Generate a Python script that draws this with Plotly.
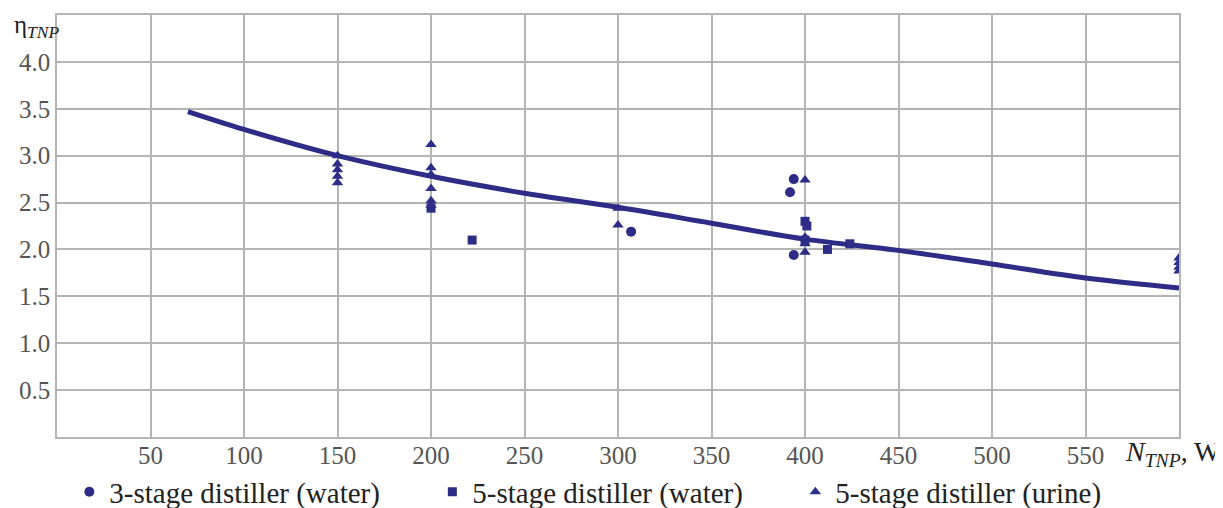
import plotly.graph_objects as go

# ---- data ----
curve_x = [70, 100, 150, 200, 250, 300, 350, 400, 450, 500, 550, 600]
curve_y = [3.47, 3.28, 3.00, 2.78, 2.60, 2.45, 2.28, 2.11, 1.99, 1.845, 1.695, 1.59]

water3_x = [307, 392, 394, 394]
water3_y = [2.19, 2.61, 2.75, 1.94]

water5_x = [200, 222, 400, 401, 400, 412, 424]
water5_y = [2.44, 2.10, 2.30, 2.25, 2.10, 2.00, 2.06]

urine5_x = [150, 150, 150, 150, 150,
            200, 200, 200, 200, 200, 200,
            300, 300,
            400, 400, 400, 400,
            600, 600, 600, 600]
urine5_y = [3.00, 2.91, 2.85, 2.78, 2.71,
            3.12, 2.87, 2.80, 2.65, 2.52, 2.47,
            2.44, 2.26,
            2.74, 2.13, 2.06, 1.97,
            1.91, 1.86, 1.81, 1.77]

x_ticks = [50, 100, 150, 200, 250, 300, 350, 400, 450, 500, 550]
y_ticks = [0.5, 1.0, 1.5, 2.0, 2.5, 3.0, 3.5, 4.0]
series_names = ["3-stage distiller (water)", "5-stage distiller (water)", "5-stage distiller (urine)"]

# ---- styling ----
NAVY = "#2d2c86"
GRID = "#b4b4b4"
SERIF = "Liberation Serif"

fig = go.Figure()

fig.add_trace(go.Scatter(x=curve_x, y=curve_y, mode="lines",
                         line=dict(color=NAVY, width=5, shape="spline"),
                         showlegend=False, hoverinfo="skip"))

fig.add_trace(go.Scatter(x=water3_x, y=water3_y, mode="markers", name=series_names[0],
                         marker=dict(symbol="circle", size=10, color=NAVY)))
fig.add_trace(go.Scatter(x=water5_x, y=water5_y, mode="markers", name=series_names[1],
                         marker=dict(symbol="square", size=9, color=NAVY)))
fig.add_trace(go.Scatter(x=urine5_x, y=urine5_y, mode="markers", name=series_names[2],
                         marker=dict(symbol="triangle-up", size=10, color=NAVY)))

fig.update_xaxes(range=[0, 600], tickvals=x_ticks, ticktext=[str(v) for v in x_ticks],
                 showgrid=True, gridcolor=GRID, gridwidth=1.5,
                 showline=True, linecolor=GRID, linewidth=1.5, mirror=True,
                 zeroline=False, ticks="", automargin=False, ticklabelstandoff=-5,
                 tickfont=dict(family=SERIF, size=25, color="#555555"))
fig.update_yaxes(range=[0, 4.5], tickvals=y_ticks, ticktext=[f"{v:.1f}" for v in y_ticks],
                 showgrid=True, gridcolor=GRID, gridwidth=1.5,
                 showline=True, linecolor=GRID, linewidth=1.5, mirror=True,
                 zeroline=False, ticks="", automargin=False,
                 tickfont=dict(family=SERIF, size=25, color="#555555"))

fig.add_annotation(xref="paper", yref="paper", x=-0.040, y=0.972,
                   xanchor="left", yanchor="middle", showarrow=False,
                   text="η<sub><i>TNP</i></sub>",
                   font=dict(family=SERIF, size=25, color="#222222"))
fig.add_annotation(xref="paper", yref="paper", x=1.039, y=-0.04,
                   xanchor="right", yanchor="middle", showarrow=False,
                   text="<i>N</i><sub><i>TNP</i></sub>, W",
                   font=dict(family=SERIF, size=28, color="#222222"))

fig.update_layout(
    width=1215, height=500,
    margin=dict(l=49, r=44, t=7, b=71, autoexpand=False),
    plot_bgcolor="white", paper_bgcolor="white",
    font=dict(family=SERIF),
    legend=dict(orientation="h", x=0.011, y=-0.13, xanchor="left", yanchor="middle",
                entrywidth=318, entrywidthmode="pixels",
                font=dict(family=SERIF, size=29, color="#222222"),
                bgcolor="rgba(0,0,0,0)"),
)

fig.write_html("out.html")
